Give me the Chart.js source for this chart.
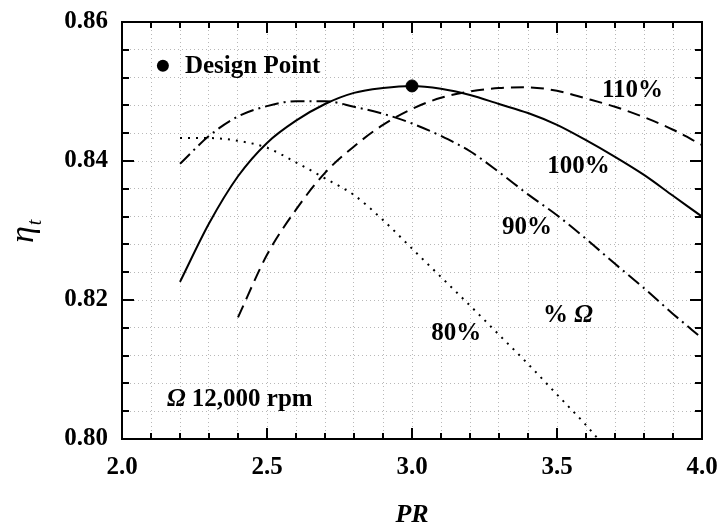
<!DOCTYPE html>
<html>
<head>
<meta charset="utf-8">
<script src="https://cdn.jsdelivr.net/npm/chart.js@4"></script>
<style>
html,body{margin:0;padding:0;background:#fff;}
#wrap{width:720px;height:527px;}
</style>
</head>
<body>
<div id="wrap"><canvas id="c" width="720" height="527"></canvas></div>
<script>
// ---- data ----
const pr100 = [2.2,2.3,2.4,2.5,2.6,2.7,2.8,2.9,3.0,3.1,3.2,3.3,3.4,3.5,3.6,3.7,3.8,3.9,4.0];
const eta100 = [0.8226,0.8310,0.8378,0.8426,0.8458,0.8482,0.8498,0.8505,0.8508,0.8504,0.8495,0.8482,0.8469,0.8452,0.8430,0.8406,0.8380,0.8350,0.8320];

const pr110 = [2.4,2.5,2.6,2.7,2.8,2.9,3.0,3.1,3.2,3.3,3.4,3.5,3.6,3.7,3.8,3.9,4.0];
const eta110 = [0.8175,0.8265,0.8330,0.8383,0.8421,0.8452,0.8475,0.8491,0.8500,0.8505,0.8506,0.8501,0.8490,0.8478,0.8463,0.8445,0.8423];

const pr90 = [2.2,2.3,2.4,2.5,2.6,2.7,2.8,2.9,3.0,3.1,3.2,3.3,3.4,3.5,3.6,3.7,3.8,3.9,4.0];
const eta90 = [0.8396,0.8436,0.8464,0.8479,0.8486,0.8486,0.8478,0.8468,0.8454,0.8436,0.8414,0.8384,0.8352,0.8322,0.8288,0.8252,0.8217,0.8180,0.8145];

const pr80 = [2.2,2.3,2.4,2.5,2.6,2.7,2.8,2.9,3.0,3.1,3.2,3.3,3.4,3.5,3.6,3.65];
const eta80 = [0.8433,0.8433,0.8429,0.8419,0.8398,0.8375,0.8351,0.8315,0.8274,0.8233,0.8192,0.8150,0.8108,0.8064,0.8020,0.7996];

const designPR = [3.0];
const designEta = [0.8508];

const xMin = 2.0, xMax = 4.0, xStep = 0.1, xLabelEvery = 0.5;
const yMin = 0.80, yMax = 0.86, yStep = 0.004, yLabelEvery = 0.02;

// annotation texts (data coordinates: left / baseline)
const notes = [
  {text: "110%", x: 3.655, y: 0.8492},
  {text: "100%", x: 3.466, y: 0.8383},
  {text: "90%",  x: 3.310, y: 0.8295},
  {text: "80%",  x: 3.066, y: 0.8142}
];

function pts(xs, ys){ return xs.map((x,i)=>({x:x, y:ys[i]})); }
function isMult(v, m){ const r = v/m; return Math.abs(r - Math.round(r)) < 1e-6; }
function noPad(s){ s.paddingLeft = 0; s.paddingRight = 0; s.paddingTop = 0; s.paddingBottom = 0; }

const SERIF = '"Liberation Serif","DejaVu Serif",serif';

const decor = {
  id: 'decor',
  afterDatasetsDraw(chart){
    const ctx = chart.ctx, a = chart.chartArea;
    const xs = chart.scales.x, ys = chart.scales.y;
    ctx.save();
    ctx.strokeStyle = '#000';
    ctx.lineWidth = 2;
    ctx.setLineDash([]);
    // inward ticks
    ctx.beginPath();
    xs.ticks.forEach(t => {
      const px = Math.round(xs.getPixelForValue(t.value));
      const len = isMult(t.value, xLabelEvery) ? 11 : 6;
      ctx.moveTo(px, a.bottom); ctx.lineTo(px, a.bottom - len);
      ctx.moveTo(px, a.top); ctx.lineTo(px, a.top + len);
    });
    ys.ticks.forEach(t => {
      const py = Math.round(ys.getPixelForValue(t.value));
      const len = isMult(t.value, yLabelEvery) ? 12 : 7;
      ctx.moveTo(a.left, py); ctx.lineTo(a.left + len, py);
      ctx.moveTo(a.right, py); ctx.lineTo(a.right - len, py);
    });
    ctx.stroke();
    ctx.strokeRect(a.left, a.top, a.right - a.left, a.bottom - a.top);

    // texts
    ctx.fillStyle = '#000';
    ctx.textBaseline = 'alphabetic';
    ctx.textAlign = 'left';
    ctx.font = 'bold 25px ' + SERIF;
    notes.forEach(n => {
      ctx.fillText(n.text, xs.getPixelForValue(n.x), ys.getPixelForValue(n.y));
    });
    // Design point legend
    const lx = xs.getPixelForValue(2.141), ly = ys.getPixelForValue(0.8537);
    ctx.beginPath(); ctx.arc(lx, ly, 6, 0, Math.PI*2); ctx.fill();
    ctx.fillText('Design Point', xs.getPixelForValue(2.217), ys.getPixelForValue(0.8527));
    // % Omega
    let px = xs.getPixelForValue(3.452), py = ys.getPixelForValue(0.8168);
    ctx.font = 'bold 25px ' + SERIF;
    ctx.fillText('% ', px, py);
    px += ctx.measureText('% ').width;
    ctx.font = 'italic bold 25px ' + SERIF;
    ctx.fillText('Ω', px, py);
    // Omega 12,000 rpm
    px = xs.getPixelForValue(2.155); py = ys.getPixelForValue(0.8047);
    ctx.font = 'italic bold 25px ' + SERIF;
    ctx.fillText('Ω', px, py);
    px += ctx.measureText('Ω').width;
    ctx.font = 'bold 25px ' + SERIF;
    ctx.fillText(' 12,000 rpm', px, py);

    // x title
    ctx.font = 'italic bold 26px ' + SERIF;
    ctx.textAlign = 'center';
    ctx.fillText('PR', (a.left + a.right)/2, 522);
    // y title (rotated)
    ctx.translate(33, 243);
    ctx.rotate(-Math.PI/2);
    ctx.textAlign = 'left';
    ctx.font = 'italic 34px ' + SERIF;
    ctx.fillText('η', 0, 0);
    const w = ctx.measureText('η').width;
    ctx.font = 'italic 20px ' + SERIF;
    ctx.fillText('t', w + 1, 8);
    ctx.restore();
  }
};

const lineBase = {borderColor:'#000', backgroundColor:'#000', borderWidth:2, pointRadius:0, fill:false, cubicInterpolationMode:'monotone'};

new Chart(document.getElementById('c'), {
  type: 'line',
  data: {
    datasets: [
      Object.assign({label:'100%', data: pts(pr100, eta100), borderDash: []}, lineBase),
      Object.assign({label:'110%', data: pts(pr110, eta110), borderDash: [13,7]}, lineBase),
      Object.assign({label:'90%', data: pts(pr90, eta90), borderDash: [14,5,2,5]}, lineBase),
      Object.assign({label:'80%', data: pts(pr80, eta80), borderDash: [2,6]}, lineBase),
      {label:'Design Point', data: pts(designPR, designEta), showLine:false, pointRadius:6, pointBackgroundColor:'#000', pointBorderColor:'#000', borderColor:'#000'}
    ]
  },
  options: {
    responsive: false,
    animation: false,
    devicePixelRatio: 1,
    layout: {padding: {left: 0, right: 18, top: 22, bottom: 0}},
    plugins: {legend: {display: false}, tooltip: {enabled: false}},
    scales: {
      x: {
        type: 'linear', min: xMin, max: xMax,
        afterFit(s){ s.height = 88; noPad(s); },
        ticks: {stepSize: xStep, autoSkip: false, maxRotation: 0, padding: 14,
          color: '#000', font: {family: SERIF, size: 25, weight: 'bold'},
          callback: v => isMult(v, xLabelEvery) ? v.toFixed(1) : ''},
        grid: {color: '#b8b8b8', lineWidth: 1, drawTicks: false},
        border: {display: false, dash: [1,3]}
      },
      y: {
        type: 'linear', min: yMin, max: yMax,
        afterFit(s){ s.width = 122; noPad(s); },
        ticks: {stepSize: yStep, autoSkip: false, padding: 14,
          color: '#000', font: {family: SERIF, size: 25, weight: 'bold'},
          callback: v => isMult(v, yLabelEvery) ? v.toFixed(2) : ''},
        grid: {color: '#b8b8b8', lineWidth: 1, drawTicks: false},
        border: {display: false, dash: [1,3]}
      }
    }
  },
  plugins: [decor]
});
</script>
</body>
</html>
